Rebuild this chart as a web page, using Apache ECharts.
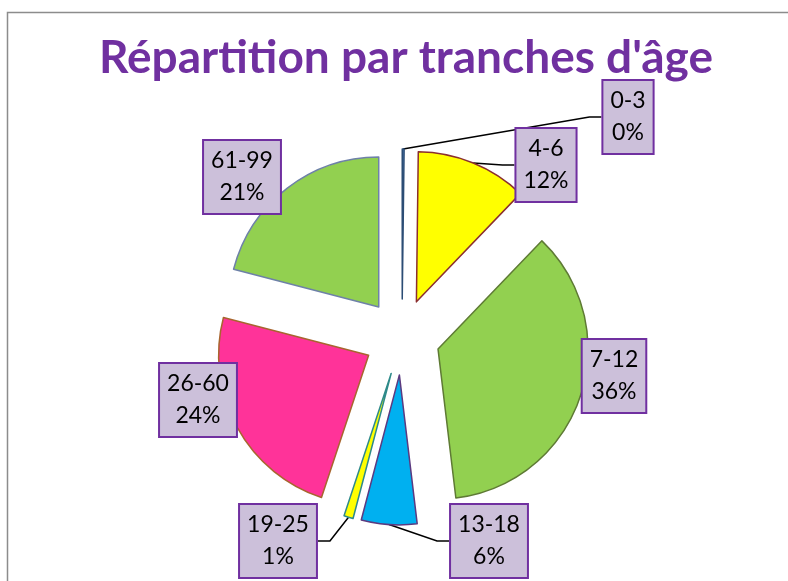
<!DOCTYPE html>
<html>
<head>
<meta charset="utf-8">
<script src="https://cdn.jsdelivr.net/npm/echarts@6/dist/echarts.min.js"></script>
<style>
  html, body { margin: 0; padding: 0; background: #fff; }
  #main { width: 788px; height: 581px; }
</style>
</head>
<body>
<div id="main"></div>
<script>
// tranches d'âge et parts (en %)
const tranches = ['0-3', '4-6', '7-12', '13-18', '19-25', '26-60', '61-99']
const parts = [0.2, 12, 36, 6, 1, 24, 21]

// couleurs des parts et de leurs bordures
const couleurs = ['#4F81BD', '#FFFF00', '#92D050', '#00B0F0', '#FFFF00', '#FF3399', '#92D050']
const bordures = ['#2C4D75', '#8B2F2F', '#5E7A34', '#5B3A80', '#2E8A8A', '#A8652E', '#6E81A8']

// position des étiquettes (centre de la boîte), et trait de rappel visible ou non
const etiquettes = [[628, 117], [546, 165], [614, 376], [489, 541], [278, 541], [198, 400], [242, 177]]
const traits = [true, true, true, true, true, false, false]

// centre du camembert, rayon et éclatement
const centre = [402, 337]
const rayon = 150
const eclat = 38

const chart = echarts.init(document.getElementById('main'))

const total = parts.reduce((a, b) => a + b, 0)

// une série par part pour pouvoir éclater chaque part sans l'état "selected"
let cumul = 0
const series = tranches.map((t, k) => {
    const milieu = (cumul + parts[k] / 2) / total * 2 * Math.PI
    cumul += parts[k]
    return {
        type: 'pie',
        center: [centre[0] + eclat * Math.sin(milieu), centre[1] - eclat * Math.cos(milieu)],
        radius: rayon,
        startAngle: 90,
        clockwise: true,
        avoidLabelOverlap: false,
        silent: true,
        label: {
            show: true,
            formatter: p => p.name + '\n' + Math.round(p.percent) + '%',
            color: '#000',
            fontFamily: 'Lato',
            fontSize: 23,
            lineHeight: 32,
            backgroundColor: '#CCC0DA',
            borderColor: '#7030A0',
            borderWidth: 2,
            padding: [4, 7]
        },
        labelLine: {
            show: traits[k],
            length: 15,
            length2: 12,
            lineStyle: { color: '#000', width: 1.5 }
        },
        labelLayout: p => ({
            x: etiquettes[k][0],
            y: etiquettes[k][1],
            align: 'center',
            verticalAlign: 'middle'
        }),
        data: tranches.map((n, i) => i === k ? {
            name: n,
            value: parts[i],
            itemStyle: { color: couleurs[i], borderColor: bordures[i], borderWidth: 1.5 }
        } : {
            name: n,
            value: parts[i],
            itemStyle: { color: 'rgba(0,0,0,0)', borderWidth: 0 },
            label: { show: false },
            labelLine: { show: false }
        })
    }
})

chart.setOption({
    animation: false,
    title: {
        text: "Répartition par tranches d'âge",
        left: 401,
        textAlign: 'center',
        top: 30,
        textStyle: {
            color: '#7030A0',
            fontFamily: 'Lato',
            fontWeight: 'bold',
            fontSize: 46
        }
    },
    graphic: [{
        type: 'rect',
        shape: { x: 7.5, y: 12.5, width: 800, height: 600 },
        style: { fill: 'none', stroke: '#8C8C8C', lineWidth: 1.5 },
        silent: true
    }],
    series: series
})
</script>
</body>
</html>
